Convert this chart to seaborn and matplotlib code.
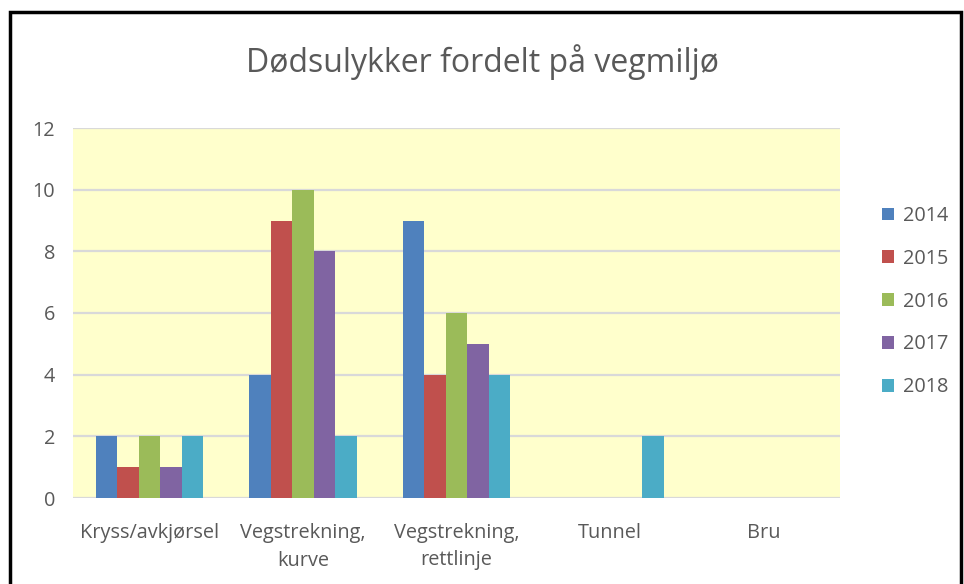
import pandas as pd
import seaborn as sns
import matplotlib.pyplot as plt
from matplotlib.patches import Rectangle, Patch

# data
categories = ["Kryss/avkjørsel", "Vegstrekning,\nkurve", "Vegstrekning,\nrettlinje", "Tunnel", "Bru"]
years = ["2014", "2015", "2016", "2017", "2018"]
v2014 = [2, 4, 9, 0, 0]
v2015 = [1, 9, 4, 0, 0]
v2016 = [2, 10, 6, 0, 0]
v2017 = [1, 8, 5, 0, 0]
v2018 = [2, 2, 4, 2, 0]
colors = ["#4F81BD", "#C0504D", "#9BBB59", "#8064A2", "#4BACC6"]

rows = []
for year, vals in zip(years, [v2014, v2015, v2016, v2017, v2018]):
    for cat, v in zip(categories, vals):
        rows.append({"kategori": cat, "år": year, "antall": v})
df = pd.DataFrame(rows)

sns.set_theme(style="white")
plt.rcParams['font.family'] = ['Open Sans', 'DejaVu Sans']
text_col = "#595959"

fig = plt.figure(figsize=(9.64, 5.84), dpi=100)
ax = fig.add_axes([73 / 964, 1 - 498 / 584, (840 - 73) / 964, (498 - 128) / 584])

sns.barplot(data=df, x="kategori", y="antall", hue="år", order=categories,
            hue_order=years, palette=colors, width=0.7, saturation=1,
            linewidth=0, ax=ax, legend=False)

ax.set_facecolor("#FFFFCC")
ax.set_ylim(0, 12)
ax.set_xlim(-0.5, 4.5)
ax.set_yticks(range(0, 13, 2))
ax.yaxis.grid(True, color="#D9D9D9", linewidth=1.6)
ax.set_axisbelow(True)
for s in ax.spines.values():
    s.set_visible(False)
ax.set_xlabel("")
ax.set_ylabel("")
ax.tick_params(axis="both", length=0, labelsize=14.3, labelcolor=text_col)
ax.tick_params(axis="y", pad=13)
ax.tick_params(axis="x", pad=18)
for lbl in ax.get_xticklabels():
    lbl.set_linespacing(1.5)

fig.text(0.5, 1 - 62 / 584, "Dødsulykker fordelt på vegmiljø", ha="center", va="center",
         fontsize=23, color=text_col)

handles = [Patch(facecolor=c, edgecolor="none") for c in colors]
fig.legend(handles, years, loc="upper left", bbox_to_anchor=(864 / 964, 1 - 188 / 584),
           frameon=False, handlelength=0.6, handleheight=0.6, handletextpad=0.45,
           labelspacing=1.15, fontsize=14.3, labelcolor=text_col)

# outer frame like the screenshot
fig.patches.append(Rectangle((10 / 964, -0.05), 951 / 964, 1.05 - 12 / 584,
                             transform=fig.transFigure, fill=False,
                             edgecolor="black", linewidth=2.5))

fig.savefig("out.png", dpi=100)
